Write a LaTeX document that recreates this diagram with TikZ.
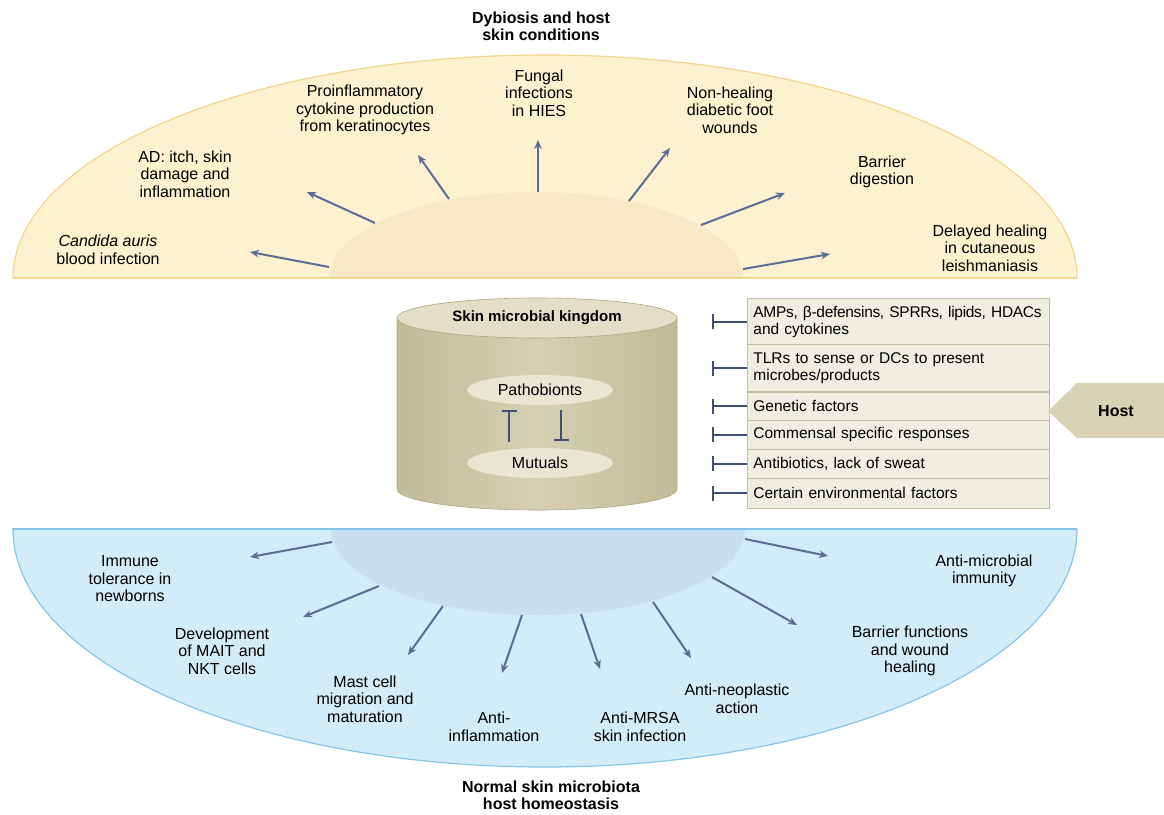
\documentclass[tikz,border=0pt]{standalone}
\usepackage{fontspec}
\setmainfont{Liberation Sans}
\usetikzlibrary{arrows.meta,shapes.geometric}
\definecolor{yelfill}{HTML}{FDF1CF}
\definecolor{yelline}{HTML}{F3D68C}
\definecolor{yelinner}{HTML}{F7E8C6}
\definecolor{bluefill}{HTML}{D2ECF9}
\definecolor{blueline}{HTML}{86C5EA}
\definecolor{blueinner}{HTML}{C8E0F2}
\definecolor{arrowc}{HTML}{5A6D92}
\definecolor{inhc}{HTML}{3E5073}
\definecolor{cylside}{HTML}{C1BB98}
\definecolor{cylmid}{HTML}{D5D0B3}
\definecolor{cyltop}{HTML}{E2DEC8}
\definecolor{cylline}{HTML}{ADA784}
\definecolor{ovalfill}{HTML}{E9E6D3}
\definecolor{boxfill}{HTML}{EFEEE1}
\definecolor{boxline}{HTML}{C3BFA2}
\definecolor{hostfill}{HTML}{D8D3B5}
\begin{document}
\begin{tikzpicture}[x=1pt,y=-1pt,
  lbl/.style={align=center,font=\fontsize{16}{17.5}\selectfont,inner sep=0pt},
  ttl/.style={align=center,font=\fontsize{16}{17}\selectfont\bfseries,inner sep=0pt},
  arr/.style={draw=arrowc,line width=2pt,-{Stealth[length=9pt,width=7.5pt]}},
  inh/.style={draw=inhc,line width=2pt,-{Bar[width=15pt,line width=2pt]}},
  rowbox/.style={draw=boxline,fill=boxfill,line width=0.8pt,anchor=west,
    text width=290pt,inner xsep=6pt,inner ysep=0pt,align=left,
    font=\fontsize{15.5}{17}\selectfont},
  oval/.style={ellipse,fill=ovalfill,minimum width=146pt,minimum height=30pt,
    inner sep=0pt,font=\fontsize{16}{17}\selectfont}
]
\useasboundingbox (0,0) rectangle (1164,814);
% ---------- top half ellipse ----------
\draw[fill=yelfill,draw=yelline,line width=1.2pt]
  (13,278) arc[start angle=180,end angle=360,x radius=532,y radius=223] -- cycle;
\fill[yelinner] (329,278) arc[start angle=180,end angle=360,x radius=207,y radius=86] -- cycle;
\draw[yelline,line width=1.2pt] (13,278) -- (1077,278);
% ---------- bottom half ellipse ----------
\draw[fill=bluefill,draw=blueline,line width=1.2pt]
  (13,529) arc[start angle=180,end angle=0,x radius=532,y radius=238] -- cycle;
\fill[blueinner] (331,529) arc[start angle=180,end angle=0,x radius=207,y radius=86] -- cycle;
\draw[blueline,line width=1.2pt] (13,529) -- (1077,529);
% ---------- titles ----------
\node[ttl] (ttop) at (541,26) {Dybiosis and host\\skin conditions};
\node[ttl] (tbot) at (551,795) {Normal skin microbiota\\host homeostasis};
% ---------- top labels ----------
\node[lbl] (l1) at (108,250) {\textit{Candida auris}\\blood infection};
\node[lbl] (l2) at (185,174) {AD: itch, skin\\damage and\\inflammation};
\node[lbl] (l3) at (365,110) {Proinflammatory\\cytokine production\\from keratinocytes};
\node[lbl] (l4) at (539,93) {Fungal\\infections\\in HIES};
\node[lbl] (l5) at (730,110) {Non-healing\\diabetic foot\\wounds};
\node[lbl] (l6) at (882,172) {Barrier\\digestion};
\node[lbl] (l7) at (990,248) {Delayed healing\\in cutaneous\\leishmaniasis};
% top arrows
\coordinate (s1) at (329,267); \coordinate (e1) at (250,252);
\coordinate (s2) at (375,223); \coordinate (e2) at (307,192);
\coordinate (s3) at (449,199); \coordinate (e3) at (418,155);
\coordinate (s4) at (538,192); \coordinate (e4) at (538,140);
\coordinate (s5) at (629,201); \coordinate (e5) at (670,148);
\coordinate (s6) at (701,225); \coordinate (e6) at (785,193);
\coordinate (s7) at (743,269); \coordinate (e7) at (830,254);
\foreach \i in {1,...,7} {\draw[arr] (s\i) -- (e\i);}
% ---------- bottom labels ----------
\node[lbl] (m1) at (130,579) {Immune\\tolerance in\\newborns};
\node[lbl] (m2) at (222,651) {Development\\of MAIT and\\NKT cells};
\node[lbl] (m3) at (365,699) {Mast cell\\migration and\\maturation};
\node[lbl] (m4) at (494,727) {Anti-\\inflammation};
\node[lbl] (m5) at (640,727) {Anti-MRSA\\skin infection};
\node[lbl] (m6) at (737,699) {Anti-neoplastic\\action};
\node[lbl] (m7) at (910,651) {Barrier functions\\and wound\\healing};
\node[lbl] (m8) at (984,571) {Anti-microbial\\immunity};
\coordinate (t1) at (332,542); \coordinate (f1) at (250,557);
\coordinate (t2) at (379,586); \coordinate (f2) at (303,617);
\coordinate (t3) at (443,606); \coordinate (f3) at (408,655);
\coordinate (t4) at (522,615); \coordinate (f4) at (502,673);
\coordinate (t5) at (581,614); \coordinate (f5) at (600,669);
\coordinate (t6) at (653,602); \coordinate (f6) at (691,658);
\coordinate (t7) at (712,577); \coordinate (f7) at (797,625);
\coordinate (t8) at (745,539); \coordinate (f8) at (828,556);
\foreach \i in {1,...,8} {\draw[arr] (t\i) -- (f\i);}
% ---------- cylinder ----------
\shade[left color=cylside,right color=cylside,middle color=cylmid]
  (397,318) -- (397,489) arc[start angle=180,end angle=0,x radius=140,y radius=21] -- (677,318) -- cycle;
\draw[cylline,line width=0.6pt]
  (397,318) -- (397,489) arc[start angle=180,end angle=0,x radius=140,y radius=21] -- (677,318);
\draw[cylline,line width=0.6pt,fill=cyltop] (537,318) ellipse[x radius=140,y radius=20];
\node[ttl,font=\fontsize{15}{17}\selectfont\bfseries] (cylt) at (537,318) {Skin microbial kingdom};
\node[oval] (pb) at (540,390) {Pathobionts};
\node[oval] (mu) at (540,463) {Mutuals};
\coordinate (ia) at (509,0);
\coordinate (ib) at (561,0);
\draw[inh,shorten <=6pt,shorten >=5pt] (mu.north -| ia) -- (pb.south -| ia);
\draw[inh,shorten <=5pt,shorten >=7pt] (pb.south -| ib) -- (mu.north -| ib);
% ---------- host factor box ----------
\node[rowbox,minimum height=46pt] (r1) at (747,321.5) {\mbox{\addfontfeature{LetterSpace=-2}AMPs, β-defensins, SPRRs, lipids, HDACs}\\and cytokines};
\node[rowbox,minimum height=47pt] (r2) at (747,368) {TLRs to sense or DCs to present\\microbes/products};
\node[rowbox,minimum height=28pt] (r3) at (747,406) {Genetic factors};
\node[rowbox,minimum height=29pt] (r4) at (747,434.5) {Commensal specific responses};
\node[rowbox,minimum height=29pt] (r5) at (747,463.5) {Antibiotics, lack of sweat};
\node[rowbox,minimum height=30pt] (r6) at (747,493) {Certain environmental factors};
\coordinate (bx) at (712,0);
\foreach \r in {r1,r2,r3,r4,r5,r6} {\draw[inh] (\r.west) -- (\r.west -| bx);}
% ---------- host arrow ----------
\fill[hostfill] (1048,411) -- (1077,383) -- (1164,383) -- (1164,438) -- (1077,438) -- cycle;
\node[ttl] (host) at (1116,411) {Host};
\end{tikzpicture}
\end{document}
